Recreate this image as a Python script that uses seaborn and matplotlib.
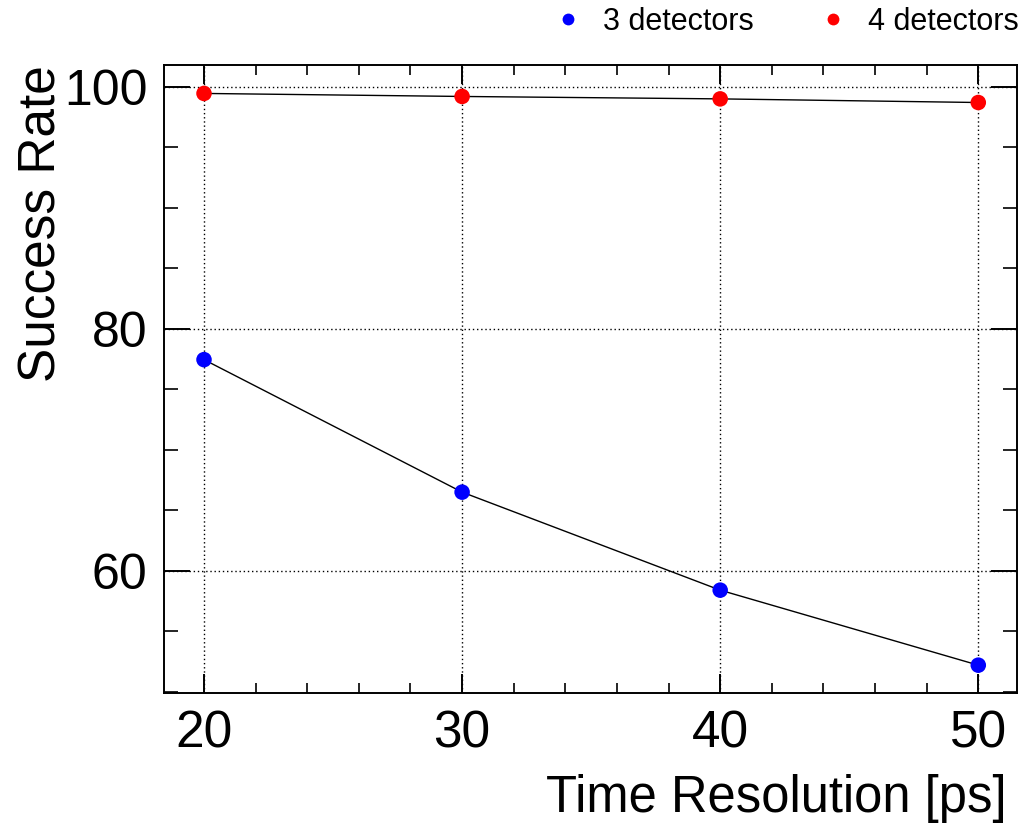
import matplotlib
matplotlib.use("Agg")
import matplotlib.pyplot as plt
from matplotlib.ticker import MultipleLocator
from matplotlib.lines import Line2D
import seaborn as sns
import pandas as pd

time_res = [20, 30, 40, 50]
rate_3det = [77.45, 66.5, 58.4, 52.2]
rate_4det = [99.45, 99.2, 99.0, 98.7]
labels = ["3 detectors", "4 detectors"]
colors = ["#0000ff", "#ff0000"]

df = pd.DataFrame({
    "t": time_res * 2,
    "rate": rate_3det + rate_4det,
    "series": [labels[0]] * 4 + [labels[1]] * 4,
})

sns.set_style("white")
plt.rcParams["font.family"] = ["Liberation Sans", "DejaVu Sans"]
plt.rcParams.update({"text.color": "black", "axes.labelcolor": "black",
                     "xtick.color": "black", "ytick.color": "black"})

fig = plt.figure(figsize=(10.23, 8.24), dpi=100)
ax = fig.add_axes([164 / 1023, 1 - 693 / 824, (1017 - 164) / 1023, (693 - 65) / 824])

for lab in labels:
    sub = df[df.series == lab]
    sns.lineplot(data=sub, x="t", y="rate", color="black", linewidth=1.0, ax=ax, zorder=2)
sns.scatterplot(data=df, x="t", y="rate", hue="series", palette=colors, s=125,
                edgecolor="none", ax=ax, zorder=3, legend=False)

ax.set_xlim(18.45, 51.5)
ax.set_ylim(49.9, 101.8)
ax.xaxis.set_major_locator(MultipleLocator(10))
ax.xaxis.set_minor_locator(MultipleLocator(2))
ax.yaxis.set_major_locator(MultipleLocator(20))
ax.yaxis.set_minor_locator(MultipleLocator(5))
ax.grid(True, which="major", color="black", linestyle=(0, (1, 2.0)), linewidth=1.0)
ax.set_axisbelow(True)

for s in ax.spines.values():
    s.set_linewidth(1.4)
    s.set_color("black")

ax.tick_params(axis="x", which="major", direction="in", length=14, width=1.4,
               top=True, bottom=True, labelsize=37, pad=12)
ax.tick_params(axis="x", which="minor", direction="in", length=7, width=1.2,
               top=True, bottom=True)
ax.tick_params(axis="y", which="major", direction="in", length=19, width=1.4,
               left=True, right=True, labelsize=36, pad=12)
ax.tick_params(axis="y", which="minor", direction="in", length=10, width=1.2,
               left=True, right=True)

ax.set_xlabel("Time Resolution [ps]", fontsize=36.5, loc="right", labelpad=11)
ax.set_ylabel("Success Rate", fontsize=37, loc="top", labelpad=-2)
ax.xaxis.get_label().set_x((1007 - 164) / 853)

handles = [Line2D([], [], marker="o", linestyle="none", color=c, markersize=8.5,
                  markeredgewidth=0) for c in colors]
fig.legend(handles, labels, loc="center right", bbox_to_anchor=(1019 / 1023, 1 - 22 / 824),
           ncol=2, frameon=False, fontsize=22, handletextpad=0.65,
           columnspacing=2.1, handlelength=1.0, borderpad=0, borderaxespad=0)

fig.savefig("out.png", dpi=100)
